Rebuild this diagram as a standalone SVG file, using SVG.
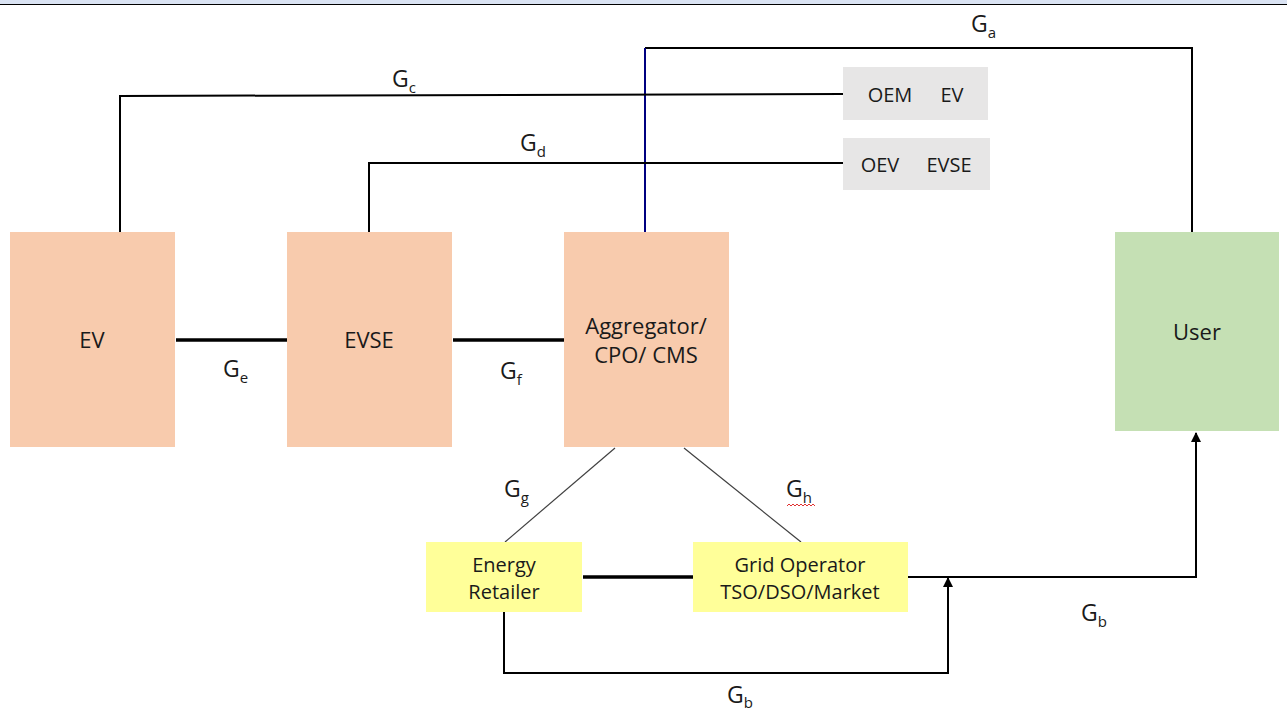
<svg xmlns="http://www.w3.org/2000/svg" width="1287" height="715" viewBox="0 0 1287 715">
<style>
text{font-family:"Open Sans","Liberation Sans",sans-serif;fill:#1a1a1a}
.n{font-size:22px;text-anchor:middle}
.s{font-size:20px;text-anchor:middle}
.g{font-size:23px}
.sub{font-size:15px}
.ln{stroke:#000;stroke-width:2;fill:none}
.thk{stroke:#000;stroke-width:3.5;fill:none}
.thin{stroke:#404040;stroke-width:1.2;fill:none}
.peach{fill:#f8cbad}
.green{fill:#c5e0b4}
.gray{fill:#e7e6e6}
.yel{fill:#ffff99}
</style>
<defs>
<marker id="ah" viewBox="0 0 10 10" refX="9" refY="5" markerWidth="5" markerHeight="5" orient="auto" markerUnits="strokeWidth">
<path d="M0,0 L10,5 L0,10 z" fill="#000"/>
</marker>
</defs>
<rect x="0" y="0" width="1287" height="715" fill="#fff"/>
<rect x="0" y="0" width="1287" height="4" fill="#dae3f3"/>
<line x1="0" y1="4.5" x2="1287" y2="4.5" stroke="#000" stroke-width="1"/>

<g id="connectors">
<polyline class="ln" points="645,48 1192,48 1192,232"/>
<line x1="645" y1="48" x2="645" y2="232" stroke="#000080" stroke-width="2"/>
<polyline class="ln" points="120,232 120,96 843,94"/>
<polyline class="ln" points="369,232 369,163 843,163"/>
<line class="thk" x1="176" y1="340" x2="287" y2="340"/>
<line class="thk" x1="453" y1="340" x2="564" y2="340"/>
<line class="thin" x1="615" y1="448" x2="505" y2="542"/>
<line class="thin" x1="684" y1="448" x2="801" y2="542"/>
<line class="thk" x1="583" y1="577" x2="693" y2="577"/>
<polyline class="ln" points="908,577 1196,577 1196,433" marker-end="url(#ah)"/>
<polyline class="ln" points="504,612 504,673 948,673 948,578" marker-end="url(#ah)"/>
</g>

<g id="labels">
<text class="g" x="971" y="32">G<tspan class="sub" dy="6">a</tspan></text>
<text class="g" x="392" y="87">G<tspan class="sub" dy="6">c</tspan></text>
<text class="g" x="520" y="151">G<tspan class="sub" dy="6">d</tspan></text>
<text class="g" x="223" y="377">G<tspan class="sub" dy="6">e</tspan></text>
<text class="g" x="500" y="379">G<tspan class="sub" dy="6">f</tspan></text>
<text class="g" x="504" y="497">G<tspan class="sub" dy="6">g</tspan></text>
<text class="g" x="786" y="497">G<tspan class="sub" dy="6">h</tspan></text>
<path d="M787,506 l2,-2 l2,2 l2,-2 l2,2 l2,-2 l2,2 l2,-2 l2,2 l2,-2 l2,2 l2,-2 l2,2 l2,-2 l2,2" stroke="#e03030" stroke-width="1" fill="none"/>
<text class="g" x="1081" y="621">G<tspan class="sub" dy="6">b</tspan></text>
<text class="g" x="727" y="703">G<tspan class="sub" dy="5">b</tspan></text>
</g>

<g id="ev"><rect class="peach" x="10" y="232" width="165" height="215"/><text class="n" x="92" y="348">EV</text></g>
<g id="evse"><rect class="peach" x="287" y="232" width="165" height="215"/><text class="n" x="369" y="348">EVSE</text></g>
<g id="aggregator"><rect class="peach" x="564" y="232" width="165" height="215"/><text class="n" x="646" y="334">Aggregator/</text><text class="n" x="646" y="363">CPO/ CMS</text></g>
<g id="user"><rect class="green" x="1115" y="232" width="164" height="199"/><text class="n" x="1197" y="340">User</text></g>
<g id="oem-ev"><rect class="gray" x="843" y="67" width="145" height="53"/><text class="s" x="890" y="102">OEM</text><text class="s" x="952" y="102">EV</text></g>
<g id="oev-evse"><rect class="gray" x="843" y="138" width="147" height="52"/><text class="s" x="880" y="172">OEV</text><text class="s" x="949" y="172">EVSE</text></g>
<g id="retailer"><rect class="yel" x="426" y="542" width="156" height="70"/><text class="s" x="504" y="572">Energy</text><text class="s" x="504" y="599">Retailer</text></g>
<g id="grid"><rect class="yel" x="693" y="542" width="215" height="70"/><text class="s" x="800" y="572">Grid Operator</text><text class="s" x="800" y="599">TSO/DSO/Market</text></g>
</svg>
